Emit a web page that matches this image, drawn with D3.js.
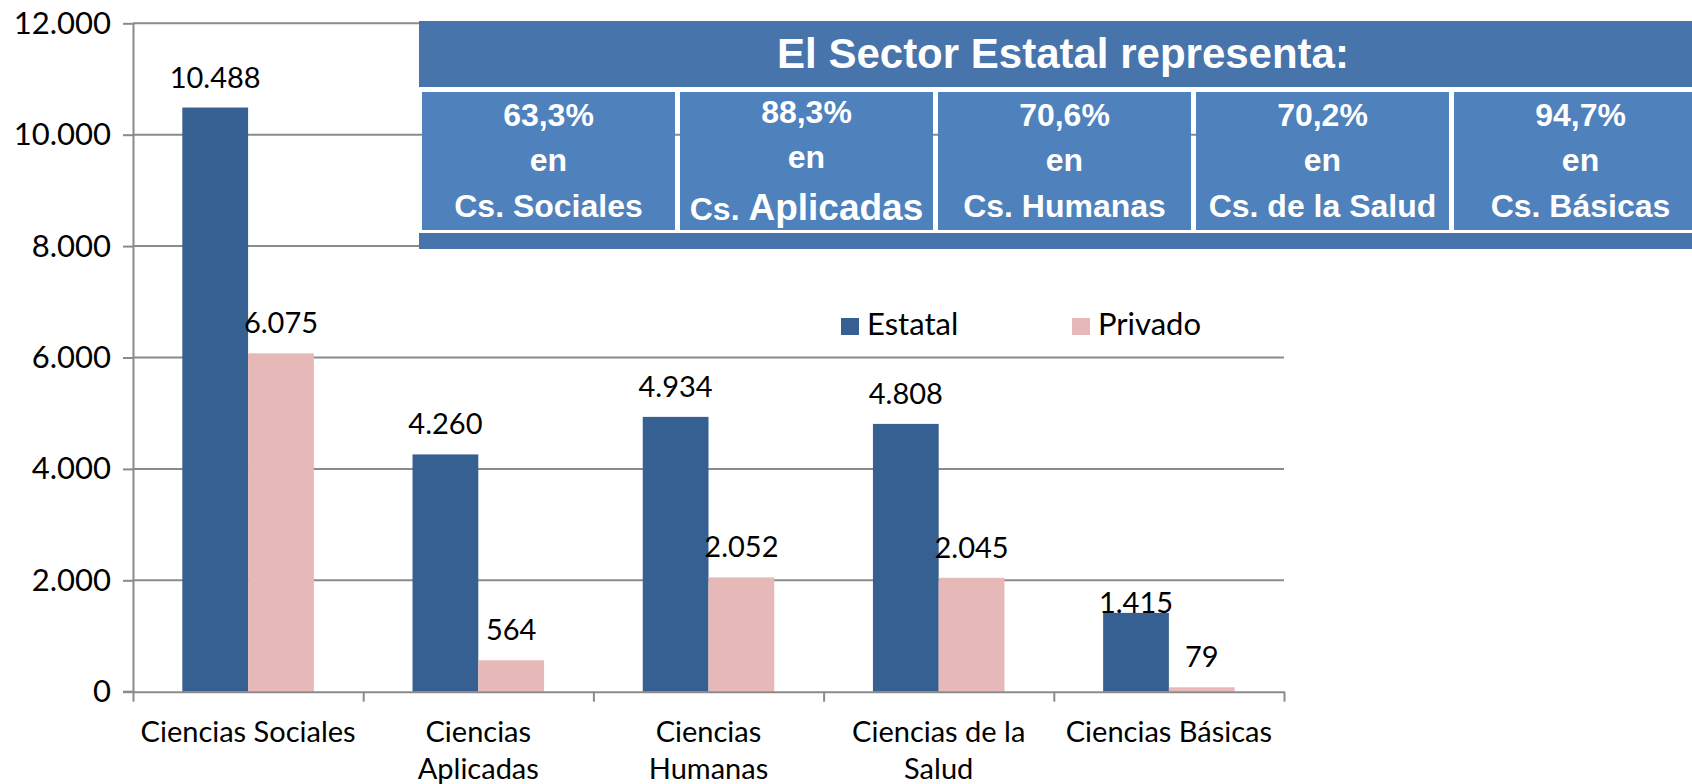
<!DOCTYPE html>
<html>
<head>
<meta charset="utf-8">
<script src="https://cdnjs.cloudflare.com/ajax/libs/d3/7.8.5/d3.min.js"></script>
<style>
	body{margin:0;background:#fff;}
	svg{display:block;}
</style>
</head>
<body>
<svg id="chart" width="1692" height="784"></svg>
<script>
// data
var categories = ['Ciencias Sociales','Ciencias\nAplicadas','Ciencias\nHumanas','Ciencias de la\nSalud','Ciencias Básicas'];
var seriesNames = ['Estatal','Privado'];
var estatal = [10488,4260,4934,4808,1415];
var privado = [6075,564,2052,2045,79];
var yTicks = [0,2000,4000,6000,8000,10000,12000];

var boxTitle = 'El Sector Estatal representa:';
var boxPcts = ['63,3%','88,3%','70,6%','70,2%','94,7%'];
var boxAreas = ['Sociales','Aplicadas','Humanas','de la Salud','Básicas'];

var config = {
	left:133,
	right:1284,
	top:23.3,
	bottom:691.7,
	colors:['#376092','#E6B9B8'],
	grid:'#8a8a8a',
	font:'Lato, Carlito, sans-serif',
	fontSize:29
};

var loc = d3.formatLocale({decimal:',',thousands:'.',grouping:[3],currency:['','']});
var fmt = loc.format(',d');

var svg = d3.select('#chart');

var yScale = d3.scaleLinear()
				.domain([0,12000])
				.range([config.bottom,config.top]);

var xScale = d3.scaleBand()
				.domain(categories)
				.range([config.left,config.right]);

var xInner = d3.scaleBand()
				.domain(seriesNames)
				.range([0,xScale.bandwidth()])
				.paddingOuter(0.75);

var rows = categories.map((c,i)=>({cat:c,values:[
	{name:'Estatal',v:estatal[i]},
	{name:'Privado',v:privado[i]}
]}));

//gridlines
svg.append('g')
	.selectAll('line')
	.data(yTicks.slice(1))
	.enter()
	.append('line')
	.attr('x1',config.left)
	.attr('x2',config.right)
	.attr('y1',d=>yScale(d))
	.attr('y2',d=>yScale(d))
	.attr('stroke',config.grid)
	.attr('stroke-width',2);

//bars
var groups = svg.append('g')
				.selectAll('g')
				.data(rows)
				.enter()
				.append('g')
				.attr('transform',d=>'translate('+xScale(d.cat)+',0)');

groups.selectAll('rect')
	.data(d=>d.values)
	.enter()
	.append('rect')
	.attr('x',d=>xInner(d.name))
	.attr('width',xInner.bandwidth())
	.attr('y',d=>yScale(d.v))
	.attr('height',d=>config.bottom-yScale(d.v))
	.attr('fill',(d,i)=>config.colors[i]);

// label nudges (1.415 sits on its bar in the original)
var nudge = function(d){ return (d.name==='Estatal' && d.v===1415) ? 0 : 20; };

groups.selectAll('text')
	.data(d=>d.values)
	.enter()
	.append('text')
	.text(d=>fmt(d.v))
	.attr('x',d=>xInner(d.name)+xInner.bandwidth()/2)
	.attr('y',d=>yScale(d.v)-nudge(d))
	.attr('text-anchor','middle')
	.attr('font-family',config.font)
	.attr('font-size',config.fontSize)
	.attr('fill','#000');

//y axis
var yAxisGen = d3.axisLeft(yScale)
				.tickValues(yTicks)
				.tickSize(10)
				.tickSizeOuter(0)
				.tickPadding(12)
				.tickFormat(fmt);

var yAxis = svg.append('g')
	.attr('transform','translate('+config.left+',0)')
	.call(yAxisGen);

//x axis
var xEdge = d3.scaleLinear()
				.domain([0,categories.length])
				.range([config.left,config.right]);

var xAxisGen = d3.axisBottom(xEdge)
				.tickValues(d3.range(categories.length+1))
				.tickSize(10)
				.tickSizeOuter(0)
				.tickFormat('');

var xAxis = svg.append('g')
	.attr('transform','translate(0,'+config.bottom+')')
	.call(xAxisGen);

[yAxis,xAxis].forEach(function(a){
	a.selectAll('path,line').attr('stroke',config.grid).attr('stroke-width',2);
	a.selectAll('text')
		.attr('font-family',config.font)
		.attr('font-size',31)
		.attr('fill','#000');
});

// left tick of the baseline
svg.append('line')
	.attr('x1',config.left-10)
	.attr('x2',config.left)
	.attr('y1',yScale(0))
	.attr('y2',yScale(0))
	.attr('stroke',config.grid)
	.attr('stroke-width',2);

//category labels
var catLabels = svg.append('g')
	.selectAll('text')
	.data(categories)
	.enter()
	.append('text')
	.attr('text-anchor','middle')
	.attr('font-family',config.font)
	.attr('font-size',config.fontSize)
	.attr('fill','#000');

catLabels.selectAll('tspan')
	.data(d=>d.split('\n').map(t=>({t:t,c:d})))
	.enter()
	.append('tspan')
	.attr('x',d=>xScale(d.c)+xScale.bandwidth()/2)
	.attr('y',(d,i)=>742+i*37)
	.text(d=>d.t);

//legend
var legend = svg.append('g')
				.selectAll('g')
				.data(seriesNames)
				.enter()
				.append('g')
				.attr('transform',(d,i)=>'translate('+(841+i*231)+',318)');

legend.append('rect')
	.attr('width',18)
	.attr('height',17)
	.attr('fill',(d,i)=>config.colors[i]);

legend.append('text')
	.text(d=>d)
	.attr('x',26)
	.attr('y',17)
	.attr('font-family',config.font)
	.attr('font-size',31)
	.attr('fill','#000');

//box
var box = svg.append('g');
var boxLeft = 419, cellW = 252, cellGap = 5;

box.append('rect')
	.attr('x',boxLeft)
	.attr('y',21)
	.attr('width',1300)
	.attr('height',66)
	.attr('fill','#4774AB');

box.append('rect')
	.attr('x',boxLeft)
	.attr('y',233)
	.attr('width',1300)
	.attr('height',16)
	.attr('fill','#4774AB');

box.append('text')
	.text(boxTitle)
	.attr('x',boxLeft+(5*(cellW+cellGap)+3)/2)
	.attr('y',68)
	.attr('text-anchor','middle')
	.attr('font-family','Liberation Sans, Arial, sans-serif')
	.attr('font-weight','bold')
	.attr('font-size',42)
	.attr('fill','#fff');

var cellScale = d3.scaleBand()
				.domain(d3.range(boxPcts.length))
				.range([boxLeft+3,boxLeft+3+boxPcts.length*(cellW+cellGap)])
				.paddingInner(cellGap/(cellW+cellGap))
				.paddingOuter(0);

var cells = box.selectAll('g.cell')
			.data(boxPcts)
			.enter()
			.append('g')
			.attr('class','cell')
			.attr('transform',(d,i)=>'translate('+cellScale(i)+',92)');

cells.append('rect')
	.attr('width',cellScale.bandwidth())
	.attr('height',138)
	.attr('fill','#4F81BD');

var cellText = cells.append('text')
	.attr('text-anchor','middle')
	.attr('font-family','Liberation Sans, Arial, sans-serif')
	.attr('font-weight','bold')
	.attr('font-size',32)
	.attr('fill','#fff');

cellText.append('tspan')
	.attr('x',cellScale.bandwidth()/2)
	.attr('y',(d,i)=>i===1?31:34)
	.text(d=>d);

cellText.append('tspan')
	.attr('x',cellScale.bandwidth()/2)
	.attr('y',(d,i)=>i===1?76:79)
	.text('en');

var last = cellText.append('tspan')
	.attr('x',cellScale.bandwidth()/2)
	.attr('y',(d,i)=>i===1?128:125);

last.text((d,i)=>i===1?'':'Cs. '+boxAreas[i]);
last.filter((d,i)=>i===1)
	.append('tspan').text('Cs. ');
last.filter((d,i)=>i===1)
	.append('tspan').attr('font-size',37).text(boxAreas[1]);
</script>
</body>
</html>
